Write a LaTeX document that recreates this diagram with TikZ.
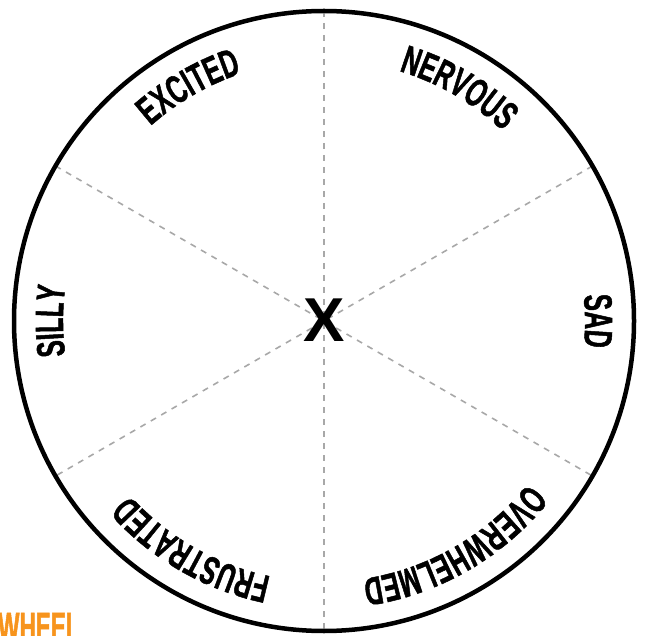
\documentclass[tikz,border=0pt]{standalone}
\usepackage{fontspec}
\usetikzlibrary{decorations.text,calc}
\newfontfamily\lblfont[FakeStretch=0.62,FakeBold=1.2]{Liberation Sans}
\newfontfamily\titlefont[FakeStretch=0.55,FakeBold=1.2]{Liberation Sans}
\newfontfamily\xfont{Liberation Sans}
\newcommand\lblsize{\lblfont\bfseries\fontsize{39.5}{40}\selectfont}
\definecolor{wheelorange}{HTML}{F7941D}
\definecolor{dashgray}{HTML}{A8A8A8}
\tikzset{
  rim/.style={draw=black, line width=4.5pt},
  divider/.style={draw=dashgray, line width=1.6pt, dash pattern=on 6pt off 6pt},
  arclabel/.style={decorate, decoration={text along path, text align=center, text={|\lblsize|#1}}}
}
\begin{document}
\begin{tikzpicture}[x=1pt,y=1pt]
\useasboundingbox (0,0) rectangle (650,635);
\clip (0,0) rectangle (650,635);
\coordinate (c) at (324,314);
% dividers
\coordinate (d90) at ($(c)+(90:310)$);
\coordinate (d270) at ($(c)+(270:310)$);
\coordinate (d30) at ($(c)+(30:310)$);
\coordinate (d210) at ($(c)+(210:310)$);
\coordinate (d150) at ($(c)+(150:310)$);
\coordinate (d330) at ($(c)+(330:310)$);
\draw[divider] (d90) -- (d270);
\draw[divider] (d30) -- (d210);
\draw[divider] (d150) -- (d330);
% rim
\draw[rim] (c) circle[radius=310];
% centre
\node[font=\xfont\bfseries\fontsize{62}{62}\selectfont, inner sep=0pt] (x) at (324,315) {X};
% labels
\path[arclabel=EXCITED] (c) ++(150:261) arc[start angle=150, end angle=90, radius=261];
\path[arclabel=NERVOUS] (c) ++(90:261) arc[start angle=90, end angle=30, radius=261];
\path[arclabel=SAD] (c) ++(30:261) arc[start angle=30, end angle=-30, radius=261];
\path[arclabel=OVERWHELMED] (c) ++(-30:261) arc[start angle=-30, end angle=-90, radius=261];
\path[arclabel=FRUSTRATED] (c) ++(-90:261) arc[start angle=-90, end angle=-150, radius=261];
\path[arclabel=SILLY] (c) ++(210:261) arc[start angle=210, end angle=150, radius=261];
% bottom-left title fragment
\node[anchor=base west, inner sep=0pt, text=wheelorange, font=\titlefont\bfseries\fontsize{41}{41}\selectfont] (wheel) at (-2,-6) {WHEEL};
\end{tikzpicture}
\end{document}
